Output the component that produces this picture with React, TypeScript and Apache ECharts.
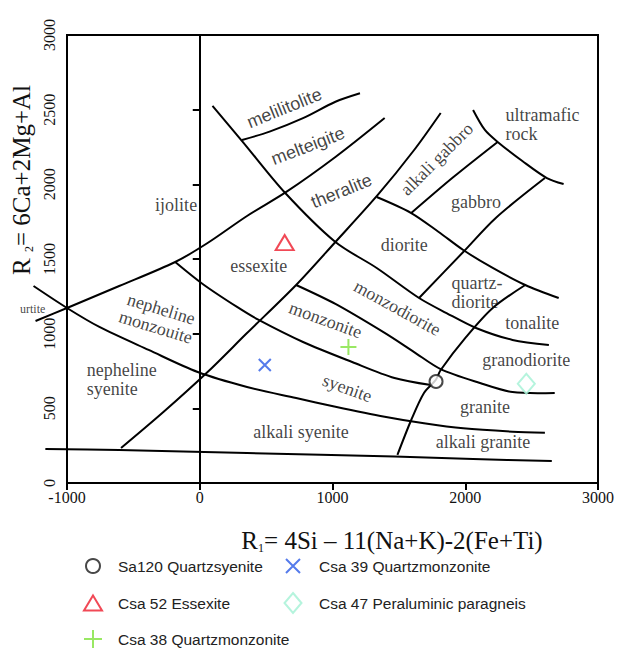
import React, { useEffect, useRef } from "react";
import * as echarts from "echarts";

type Pt = [number, number];

// Axis ranges and tick steps (R1 horizontal, R2 vertical)
const R1_MIN = -1000;
const R1_MAX = 3000;
const R1_STEP = 1000;
const R2_MIN = 0;
const R2_MAX = 3000;
const R2_STEP = 500;

// Field boundaries of the R1-R2 classification, as (R1, R2) vertices
const baseLine: Pt[] = [[-1163, 228], [-607, 221], [356, 201], [1467, 177], [2059, 161], [2652, 147]];
const syeniteLower: Pt[] = [[-1252, 1319], [-1000, 1172], [-756, 1045], [-385, 891], [-15, 743], [356, 643], [726, 569], [1022, 511], [1393, 444], [1689, 400], [1985, 366], [2356, 344], [2600, 337]];
const ijoliteLower: Pt[] = [[-1237, 1085], [-1000, 1172], [-607, 1319], [-185, 1480], [59, 1607], [356, 1788], [652, 1949], [1022, 2183], [1393, 2444]];
const melilitoliteLower: Pt[] = [[319, 2297], [526, 2353], [778, 2443], [1022, 2553], [1207, 2610]];
const theraliteTonalite: Pt[] = [[96, 2525], [319, 2290], [637, 1949], [1022, 1614], [1333, 1440], [1652, 1239], [1859, 1138], [2081, 1038], [2356, 958], [2630, 924]];
const gabbroDiorite: Pt[] = [[1333, 1915], [1593, 1808], [1800, 1681], [1985, 1560], [2207, 1440], [2452, 1326], [2704, 1239]];
const monzoniteUpper: Pt[] = [[726, 1326], [1022, 1199], [1393, 1005], [1615, 877], [1815, 763], [2111, 670], [2356, 609], [2674, 603]];
const monzoniteLower: Pt[] = [[-185, 1480], [22, 1333], [281, 1179], [444, 1092], [778, 944], [1148, 810], [1467, 703], [1741, 656]];
const alkaliGabbroEdge: Pt[] = [[-593, 234], [-274, 475], [59, 743], [356, 1004], [726, 1326], [1022, 1614], [1341, 1929], [1615, 2230], [1815, 2478]];
const graniteEdge: Pt[] = [[1489, 188], [1593, 422], [1689, 603], [1778, 690], [1815, 757], [2007, 978], [2207, 1172], [2452, 1326]];
const quartzDioriteEdge: Pt[] = [[1652, 1239], [1985, 1547], [2230, 1775], [2600, 2042]];
const gabbroEdge: Pt[] = [[1593, 1808], [1911, 2049], [2244, 2284]];
const ultramaficEdge: Pt[] = [[2059, 2498], [2148, 2364], [2244, 2284], [2430, 2156], [2615, 2042], [2741, 2002]];

const boundaries: Pt[][] = [
  baseLine, syeniteLower, ijoliteLower, melilitoliteLower, theraliteTonalite,
  gabbroDiorite, monzoniteUpper, monzoniteLower, alkaliGabbroEdge, graniteEdge,
  quartzDioriteEdge, gabbroEdge, ultramaficEdge,
];

// Samples (R1, R2)
const sa120: Pt[] = [[1780, 680]];
const csa52: Pt[] = [[640, 1610]];
const csa38: Pt[] = [[1120, 910]];
const csa39: Pt[] = [[490, 790]];
const csa47: Pt[] = [[2460, 665]];

// Field names: text, R1, R2, rotation in degrees
const fieldNames: [string, number, number, number][] = [
  ["melilitolite", 637, 2511, 22],
  ["melteigite", 815, 2257, 21],
  ["theralite", 1067, 1955, 22],
  ["alkali gabbro", 1785, 2170, 45],
  ["ultramafic\nrock", 2304, 2404, 0],
  ["gabbro", 2081, 1882, 0],
  ["diorite", 1541, 1594, 0],
  ["quartz-\ndiorite", 1896, 1279, 0],
  ["tonalite", 2504, 1071, 0],
  ["granodiorite", 2459, 824, 0],
  ["granite", 2148, 509, 0],
  ["alkali granite", 2133, 275, 0],
  ["alkali syenite", 763, 342, 0],
  ["syenite", 1111, 636, -20],
  ["monzonite", 948, 1092, -20],
  ["monzodiorite", 1489, 1172, -29],
  ["nepheline\nmonzouite", -311, 1105, -17],
  ["nepheline\nsyenite", -852, 690, 0],
  ["essexite", 444, 1453, 0],
  ["ijolite", -178, 1862, 0],
  ["urtite", -1259, 1165, 0],
];

const SANS_NAMES = new Set(["melilitolite", "melteigite", "theralite"]);
const LEFT_ALIGNED = new Set(["ultramafic\nrock", "quartz-\ndiorite", "nepheline\nsyenite"]);

const SERIF = '"Liberation Serif", "Times New Roman", serif';
const SANS = '"Liberation Sans", Arial, sans-serif';

// Legend entries: icon centre, icon box, text start (pixels)
const legendSlots: { name: string; cx: number; cy: number; w: number; h: number; tx: number }[] = [
  { name: "Sa120 Quartzsyenite", cx: 92, cy: 565, w: 14, h: 14, tx: 117 },
  { name: "Csa 52 Essexite", cx: 92, cy: 602, w: 18, h: 15, tx: 117 },
  { name: "Csa 38 Quartzmonzonite", cx: 92, cy: 638, w: 18, h: 18, tx: 117 },
  { name: "Csa 39 Quartzmonzonite", cx: 292, cy: 565, w: 14, h: 14, tx: 318 },
  { name: "Csa 47 Peraluminic paragneis", cx: 292, cy: 602, w: 17, h: 20, tx: 318 },
];

export default function App() {
  const ref = useRef<HTMLDivElement>(null);

  useEffect(() => {
    if (!ref.current) return;
    const chart = echarts.init(ref.current, null, { renderer: "svg" });

    // Boundary curves are drawn as polylines through the axis scales;
    // some extend past the left axis, so nothing is clipped.
    const boundarySeries = {
      type: "custom",
      coordinateSystem: "cartesian2d",
      clip: false,
      silent: true,
      z: 2,
      data: boundaries.map((b) => b[0]),
      renderItem: (params: any, api: any) => {
        const pts = boundaries[params.dataIndex].map((p) => api.coord(p));
        return {
          type: "polyline",
          shape: { points: pts, smooth: 0.3 },
          style: { stroke: "#000", lineWidth: 2, fill: "none" },
        };
      },
    };

    const nameSeries = {
      type: "scatter",
      symbolSize: 0,
      clip: false,
      silent: true,
      z: 3,
      data: fieldNames.map(([text, r1, r2, rot]) => ({
        name: text,
        value: [r1, r2],
        label: {
          rotate: rot,
          fontFamily: SANS_NAMES.has(text) ? SANS : SERIF,
          fontSize: text === "urtite" ? 12 : 18,
          align: LEFT_ALIGNED.has(text) ? "left" : "center",
          lineHeight: 19,
        },
      })),
      label: {
        show: true,
        position: "inside",
        color: "#111",
        formatter: (p: any) => p.name,
      },
    };

    const sampleStyle = (color: string) => ({ color, borderColor: color, borderWidth: 2 });
    const strokeOnly = (color: string) => ({ color: "rgba(0,0,0,0)", borderColor: color, borderWidth: 2 });

    const sampleSeries = [
      { name: "Sa120 Quartzsyenite", type: "scatter", data: sa120, symbol: "emptyCircle", symbolSize: 13, itemStyle: sampleStyle("#1a1a1a") },
      { name: "Csa 52 Essexite", type: "scatter", data: csa52, symbol: "emptyTriangle", symbolSize: [18, 15], itemStyle: sampleStyle("#ee1c2c") },
      { name: "Csa 38 Quartzmonzonite", type: "scatter", data: csa38, symbol: "path://M5,0L5,10M0,5L10,5", symbolSize: 16, itemStyle: strokeOnly("#7fe23c") },
      { name: "Csa 39 Quartzmonzonite", type: "scatter", data: csa39, symbol: "path://M0,0L10,10M10,0L0,10", symbolSize: 12, itemStyle: strokeOnly("#2a5ae6") },
      { name: "Csa 47 Peraluminic paragneis", type: "scatter", data: csa47, symbol: "emptyDiamond", symbolSize: [17, 20], itemStyle: sampleStyle("#a2f1d5") },
    ].map((s) => ({ ...s, z: 5, clip: false }));

    const legends = legendSlots.map((s) => {
      const left = s.cx - s.w / 2;
      return {
        data: [s.name],
        left,
        top: s.cy - s.h / 2,
        itemWidth: s.w,
        itemHeight: s.h,
        selectedMode: false,
        padding: 0,
        textStyle: {
          fontFamily: SANS,
          fontSize: 15.5,
          color: "#222",
          padding: [0, 0, 0, s.tx - (left + s.w + 5)],
        },
      };
    });

    chart.setOption({
      animation: false,
      backgroundColor: "#fff",
      grid: {
        left: 67,
        right: 10,
        top: 35,
        bottom: 165,
        show: true,
        borderColor: "#000",
        borderWidth: 2,
      },
      xAxis: {
        type: "value",
        min: R1_MIN,
        max: R1_MAX,
        interval: R1_STEP,
        splitLine: { show: false },
        axisLine: { lineStyle: { color: "#000", width: 2 } },
        axisTick: { length: 7, lineStyle: { color: "#000", width: 2 } },
        axisLabel: {
          color: "#111",
          fontFamily: SERIF,
          fontSize: 16,
          margin: 6,
          formatter: (v: number) => String(v),
        },
      },
      yAxis: {
        type: "value",
        min: R2_MIN,
        max: R2_MAX,
        interval: R2_STEP,
        splitLine: { show: false },
        axisLine: { lineStyle: { color: "#000", width: 2 } },
        axisTick: { length: 7, lineStyle: { color: "#000", width: 2 } },
        axisLabel: {
          color: "#111",
          fontFamily: SERIF,
          fontSize: 16,
          rotate: 90,
          margin: 10,
          formatter: (v: number) => String(v),
        },
      },
      legend: legends,
      graphic: [
        {
          type: "text",
          x: 392,
          y: 540,
          style: {
            text: "{m|R}{s|1}{m|= 4Si – 11(Na+K)-2(Fe+Ti)}",
            align: "center",
            verticalAlign: "middle",
            fill: "#111",
            rich: {
              m: { fontFamily: SERIF, fontSize: 25, lineHeight: 28, fill: "#111" },
              s: { fontFamily: SERIF, fontSize: 12, lineHeight: 28, verticalAlign: "bottom", fill: "#111" },
            },
          },
        },
        {
          type: "text",
          x: 21,
          y: 180,
          rotation: Math.PI / 2,
          style: {
            text: "{m|R }{s|2}{m|= 6Ca+2Mg+Al}",
            align: "center",
            verticalAlign: "middle",
            fill: "#111",
            rich: {
              m: { fontFamily: SERIF, fontSize: 25, lineHeight: 28, fill: "#111" },
              s: { fontFamily: SERIF, fontSize: 12, lineHeight: 28, verticalAlign: "bottom", fill: "#111" },
            },
          },
        },
      ],
      series: [boundarySeries, nameSeries, ...sampleSeries],
    });

    return () => chart.dispose();
  }, []);

  return (
    <div
      ref={ref}
      style={{ position: "absolute", left: 0, top: 0, width: 617, height: 648 }}
    />
  );
}
